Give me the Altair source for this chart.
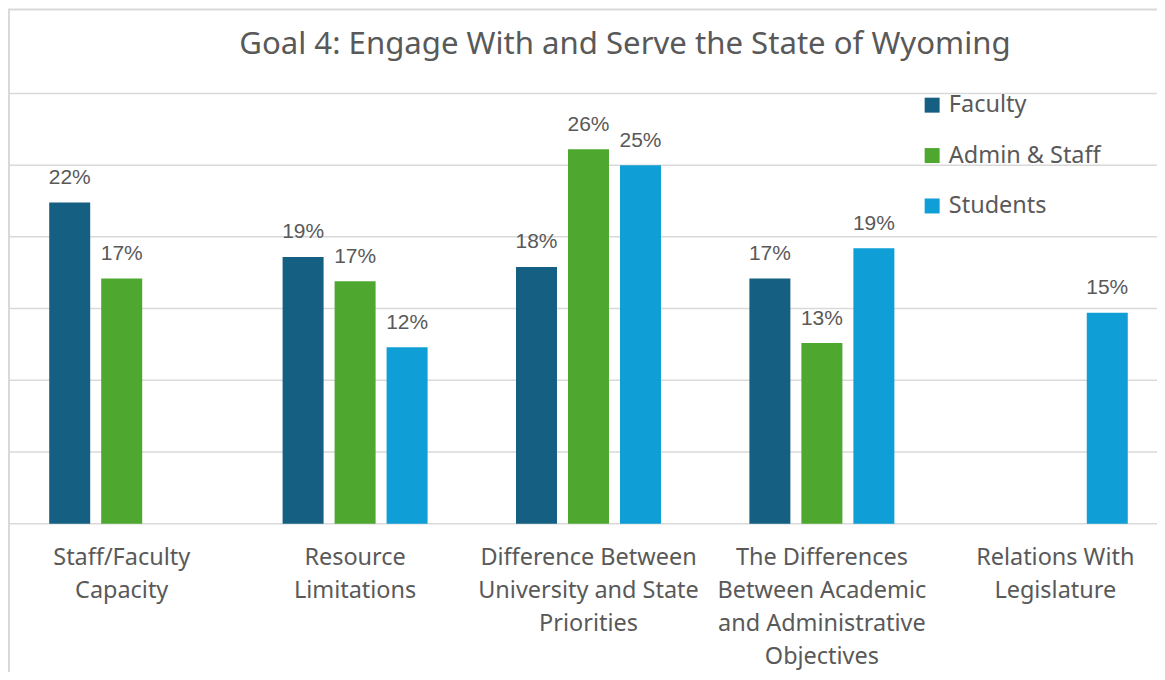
import altair as alt
import pandas as pd

categories = [
    "Staff/Faculty|Capacity",
    "Resource|Limitations",
    "Difference Between|University and State|Priorities",
    "The Differences|Between Academic|and Administrative|Objectives",
    "Relations With|Legislature",
]
groups = ["Faculty", "Admin & Staff", "Students"]
faculty = [22.4, 18.6, 17.9, 17.1, None]
admin_staff = [17.1, 16.9, 26.1, 12.6, None]
students = [None, 12.3, 25.0, 19.2, 14.7]
colors = ["#156082", "#4EA72E", "#0F9ED5"]
grid_values = [0, 5, 10, 15, 20, 25, 30]
title_text = "Goal 4: Engage With and Serve the State of Wyoming"

rows = []
for i, c in enumerate(categories):
    for g, vals in zip(groups, [faculty, admin_staff, students]):
        if vals[i] is not None:
            rows.append({"category": c, "group": g, "value": vals[i],
                         "label": f"{round(vals[i])}%"})
df = pd.DataFrame(rows)
grid_df = pd.DataFrame({"value": grid_values})

W = 1149
H = 431
FONT = "Noto Sans"
GREY = "#595959"
GRID = "#d9d9d9"

x = alt.X("category:N", sort=categories, title=None,
          scale=alt.Scale(paddingInner=0, paddingOuter=0, range=[-5, 1164]),
          axis=alt.Axis(labelExpr="split(datum.label, '|')", labelAngle=0,
                        labelFontSize=23.5, labelColor=GREY, labelFont=FONT,
                        labelLineHeight=33, labelPadding=22, ticks=False,
                        domain=False, grid=False, labelLimit=300))
xo = alt.XOffset("group:N", sort=groups,
                 scale=alt.Scale(paddingInner=0.2115, paddingOuter=0.85))
yscale = alt.Scale(domain=[0, 30], nice=False)
y = alt.Y("value:Q", title=None, scale=yscale, axis=None)
color = alt.Color("group:N", sort=groups,
                  scale=alt.Scale(domain=groups, range=colors),
                  legend=alt.Legend(title=None, orient="none", legendX=912, legendY=0,
                                    symbolType="square", symbolSize=225,
                                    symbolStrokeWidth=0, labelFontSize=23.5,
                                    labelFont=FONT, labelColor=GREY,
                                    rowPadding=25.5, symbolOffset=0, labelOffset=5))

gridlines = alt.Chart(grid_df).mark_rule(color=GRID, strokeWidth=1.5).encode(
    y=alt.Y("value:Q", scale=yscale, axis=None), x=alt.value(0), x2=alt.value(W))

base = alt.Chart(df)
bars = base.mark_bar().encode(x=x, xOffset=xo, y=y, color=color)
labels = base.mark_text(baseline="alphabetic", dy=-18.5, fontSize=21,
                        font="Liberation Sans", color=GREY).encode(
    x=x, xOffset=xo, y=y, text="label:N")

one = alt.Data(values=[{"t": title_text}])
border = alt.Chart(one).mark_rule(color=GRID, strokeWidth=2).encode(
    x=alt.value(-1), y=alt.value(-84), y2=alt.value(H + 160))
border_top = alt.Chart(one).mark_rule(color=GRID, strokeWidth=2).encode(
    x=alt.value(-2), x2=alt.value(W), y=alt.value(-84))
title = alt.Chart(one).mark_text(font=FONT, fontSize=31.2, color=GREY,
                                 align="center", baseline="alphabetic").encode(
    x=alt.value(616), y=alt.value(-39), text="t:N")

chart = alt.layer(border, border_top, gridlines, title, bars, labels).properties(
    width=W, height=H,
    autosize=alt.AutoSizeParams(type="none"),
    padding={"left": 2, "top": 85, "right": 0, "bottom": 148},
).configure_view(stroke=None)

chart.save("out.html", embed_options={"renderer": "svg", "actions": False})
